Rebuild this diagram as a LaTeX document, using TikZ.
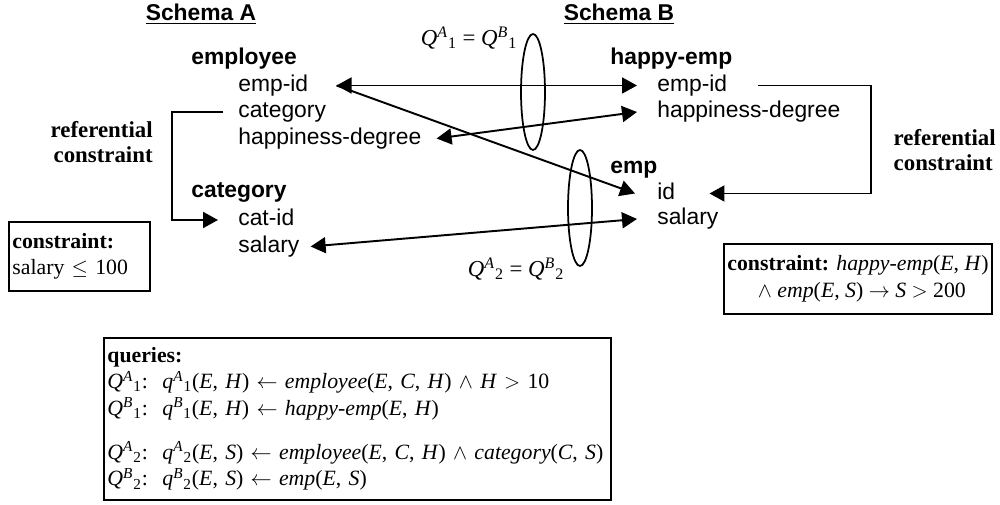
\documentclass[tikz,border=0pt]{standalone}
\usepackage{fontspec}
\setmainfont{Liberation Serif}
\setsansfont{Liberation Sans}
\usetikzlibrary{shapes.geometric, arrows.meta, positioning}

\newcommand{\qsym}[3]{\textit{#1}\textsuperscript{\textit{#2}}\textsubscript{#3}}

\begin{document}
\begin{tikzpicture}[
        x=0.2mm, y=-0.2mm,
        >={Triangle[length=3mm, width=3.2mm]},
        schema/.style={font=\sffamily\bfseries\fontsize{13}{15}\selectfont, inner sep=0pt},
        tbl/.style={font=\sffamily\bfseries\fontsize{13}{15}\selectfont, anchor=west, inner sep=0pt, text height=9.5pt, text depth=2.8pt},
        attr/.style={font=\sffamily\fontsize{13}{15}\selectfont, anchor=west, inner sep=0pt, text height=9.5pt, text depth=2.8pt},
        note/.style={font=\bfseries\fontsize{13}{14.7}\selectfont, inner sep=0pt},
        qlabel/.style={font=\fontsize{13}{15}\selectfont, inner sep=0pt},
        cbox/.style={rectangle, draw, line width=1pt, font=\fontsize{12.4}{15}\selectfont, align=left, inner sep=2pt},
        link/.style={line width=1.1pt},
        ring/.style={ellipse, draw, line width=1pt, minimum width=4.8mm, minimum height=23.2mm, inner sep=0pt}
    ]
        \useasboundingbox (0,0) rectangle (1000,505);

        % Headers
        \node (schemaA) [schema] at (201,14) {\underline{Schema A}};
        \node (schemaB) [schema] at (619,14) {\underline{Schema B}};

        % Schema A tables
        \node (employee) [tbl] at (191,59) {employee};
        \node (aempid) [attr, below right=5.3mm and 9.4mm of employee.west, anchor=west] {emp-id};
        \node (acat) [attr, below=5.3mm of aempid.west, anchor=west] {category};
        \node (ahappy) [attr, below=5.3mm of acat.west, anchor=west] {happiness-degree};
        \node (category) [tbl] at (191,192) {category};
        \node (acatid) [attr, below right=5.6mm and 9.4mm of category.west, anchor=west] {cat-id};
        \node (asalary) [attr, below=5.3mm of acatid.west, anchor=west] {salary};

        % Schema B tables
        \node (happyemp) [tbl] at (610,59) {happy-emp};
        \node (bempid) [attr, below right=5.3mm and 9.4mm of happyemp.west, anchor=west] {emp-id};
        \node (bhappy) [attr, below=5.3mm of bempid.west, anchor=west] {happiness-degree};
        \node (emp) [tbl] at (610,168) {emp};
        \node (bid) [attr, below right=5.1mm and 9.4mm of emp.west, anchor=west] {id};
        \node (bsalary) [attr, below=5.1mm of bid.west, anchor=west] {salary};

        % Referential constraints
        \node (refA) [note, anchor=east, align=right] at (153,142) {referential\\constraint};
        \node (refB) [note, anchor=east, align=left] at (996,150) {referential\\constraint};

        % Query equivalences
        \node (eqone) [ring] at (533,92) {};
        \node (eqtwo) [ring] at (580,208) {};
        \node (eqonelbl) [qlabel] at (469,38) {\qsym{Q}{A}{1} = \qsym{Q}{B}{1}};
        \node (eqtwolbl) [qlabel] at (516,269) {\qsym{Q}{A}{2} = \qsym{Q}{B}{2}};

        % Constraint boxes
        \node (conA) [cbox, anchor=north west, text width=26.8mm, minimum height=13.8mm] at (8,221) {\textbf{constraint:}\\salary $\leq$ 100};
        \node (conB) [cbox, anchor=north east, minimum height=14mm] at (993,243) {\textbf{constraint:} \textit{happy-emp}(\textit{E}, \textit{H})\\\hspace*{1.4em}$\wedge$ \textit{emp}(\textit{E}, \textit{S}) $\rightarrow$ \textit{S} $>$ 200};

        % Queries
        \node (queries) [cbox, anchor=north west, text width=100mm, inner ysep=3.5pt, minimum height=32.4mm] at (103,337) {\textbf{queries:}\\
            \makebox[11mm][l]{\qsym{Q}{A}{1}:}\qsym{q}{A}{1}(\textit{E}, \textit{H}) $\leftarrow$ \textit{employee}(\textit{E}, \textit{C}, \textit{H}) $\wedge$ \textit{H} $>$ 10\\
            \makebox[11mm][l]{\qsym{Q}{B}{1}:}\qsym{q}{B}{1}(\textit{E}, \textit{H}) $\leftarrow$ \textit{happy-emp}(\textit{E}, \textit{H})\\[3.6mm]
            \makebox[11mm][l]{\qsym{Q}{A}{2}:}\qsym{q}{A}{2}(\textit{E}, \textit{S}) $\leftarrow$ \textit{employee}(\textit{E}, \textit{C}, \textit{H}) $\wedge$ \textit{category}(\textit{C}, \textit{S})\\
            \makebox[11mm][l]{\qsym{Q}{B}{2}:}\qsym{q}{B}{2}(\textit{E}, \textit{S}) $\leftarrow$ \textit{emp}(\textit{E}, \textit{S})};

        % Attribute correspondences
        \draw [link, <->] ([xshift=5.6mm]aempid.east) -- ([xshift=-4mm]bempid.west);
        \draw [link, ->] ([xshift=5.6mm]aempid.east) -- ([xshift=-4.4mm]bid.west);
        \draw [link, <->] ([xshift=3mm]ahappy.east) -- ([xshift=-4mm]bhappy.west);
        \draw [link, <->] ([xshift=2.2mm]asalary.east) -- ([xshift=-4mm]bsalary.west);

        % Referential brackets
        \draw [link, ->] ([xshift=-3mm]acat.west) -- ++(-51,0) |- ([xshift=-4mm]acatid.west);
        \draw [link, ->] ([xshift=6mm]bempid.east) -- ++(113,0) |- ([xshift=6.8mm]bid.east);
    \end{tikzpicture}
\end{document}
